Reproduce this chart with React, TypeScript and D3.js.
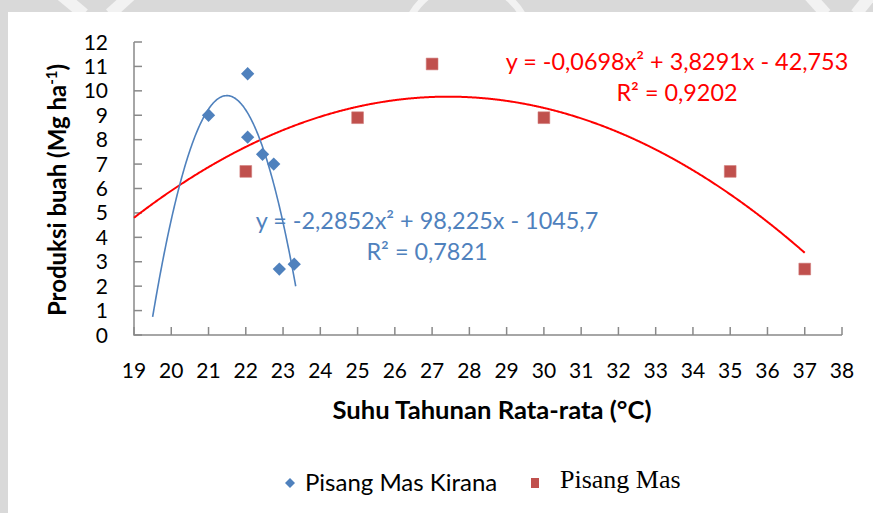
import React from 'react';
import * as d3 from 'd3';

// Pisang Mas Kirana (blue diamonds)
const kiranaTemp = [21, 22.05, 22.05, 22.45, 22.75, 22.9, 23.3];
const kiranaYield = [9.0, 10.7, 8.1, 7.4, 7.0, 2.7, 2.9];
// Pisang Mas (red squares)
const masTemp = [22, 25, 27, 30, 35, 37];
const masYield = [6.7, 8.9, 11.1, 8.9, 6.7, 2.7];

// polynomial trendlines as printed on the chart: a x^2 + b x + c
const kiranaFit = [-2.2852, 98.225, -1045.7];
const kiranaFitRange = [19.5, 23.34];
const masFit = [-0.0698, 3.8291, -42.753];
const masFitRange = [19, 37];

const xTickLabels = [19, 20, 21, 22, 23, 24, 25, 26, 27, 28, 29, 30, 31, 32, 33, 34, 35, 36, 37, 38];
const yTickLabels = [0, 1, 2, 3, 4, 5, 6, 7, 8, 9, 10, 11, 12];

const W = 873;
const H = 513;
const margin = { top: 42, right: 31, bottom: 178, left: 134 };

const BLUE = '#4F81BD';
const RED_MARK = '#C0504D';
const RED = '#FF0000';
const AXIS = '#898989';
const FONT = 'Lato, "Open Sans", sans-serif';

const App = () => {
  const x = d3.scaleLinear().domain([19, 38]).range([margin.left, W - margin.right]);
  const y = d3.scaleLinear().domain([0, 12]).range([H - margin.bottom, margin.top]);

  const line = d3.line<number[]>().x(d => x(d[0])).y(d => y(d[1]));
  const fitPoints = (coef: number[], range: number[]) =>
    d3.range(range[0], range[1] + 0.001, 0.02).map(t => [t, coef[0] * t * t + coef[1] * t + coef[2]]);

  const diamond = d3.symbol().type(d3.symbolSquare).size(88)();
  const square = d3.symbol().type(d3.symbolSquare).size(138)();
  const y0 = y(0);

  return (
    <svg width={W} height={H} style={{ position: 'absolute', left: 0, top: 0 }} fontFamily={FONT}>
      {/* page background and faint watermark */}
      <rect x={0} y={0} width={W} height={H} fill="#d9d9d9" />
      <g stroke="#f2f2f2" fill="none" strokeWidth={12}>
        <path d="M60,-6 L84,14" />
        <path d="M132,-6 L110,14" />
        <path d="M412,14 A64,64 0 0 1 522,14" strokeWidth={7} />
        <path d="M808,-6 L826,14" />
        <path d="M872,-6 L856,14" />
      </g>
      <rect x={8} y={12} width={W - 8} height={H - 12} fill="#ffffff" />

      {/* axes */}
      <g stroke={AXIS} strokeWidth={1.5} fill="none">
        <path d={`M${x(19)},${y(12)}V${y0}H${x(38)}`} />
        {yTickLabels.map(v => (
          <line key={'yt' + v} x1={x(19)} x2={x(19) + 8} y1={y(v)} y2={y(v)} />
        ))}
        {xTickLabels.map(v => (
          <line key={'xt' + v} x1={x(v)} x2={x(v)} y1={y0} y2={y0 - 8} />
        ))}
      </g>

      <g fontSize={21} fill="#000">
        {yTickLabels.map(v => (
          <text key={'yl' + v} x={108} y={y(v)} dy="0.36em" textAnchor="end">{v}</text>
        ))}
        {xTickLabels.map(v => (
          <text key={'xl' + v} x={x(v)} y={378} textAnchor="middle">{v}</text>
        ))}
      </g>

      {/* axis titles */}
      <text x={492} y={419} textAnchor="middle" fontWeight="bold" fontSize={24} textLength={319} lengthAdjust="spacingAndGlyphs">
        Suhu Tahunan Rata-rata (°C)
      </text>
      <text transform={`translate(66,190) rotate(-90)`} textAnchor="middle" fontWeight="bold" fontSize={24}>
        Produksi buah (Mg ha<tspan dy={-9} fontSize={15}>-1</tspan><tspan dy={9}>)</tspan>
      </text>

      {/* trendlines */}
      <path d={line(fitPoints(masFit, masFitRange)) || ''} fill="none" stroke={RED} strokeWidth={2} />
      <path d={line(fitPoints(kiranaFit, kiranaFitRange)) || ''} fill="none" stroke={BLUE} strokeWidth={1.6} />

      {/* points */}
      {masTemp.map((t, i) => (
        <path key={'m' + i} d={square || ''} transform={`translate(${x(t)},${y(masYield[i])})`} fill={RED_MARK} stroke="#d07a78" strokeWidth={0.6} />
      ))}
      {kiranaTemp.map((t, i) => (
        <path key={'k' + i} d={diamond || ''} transform={`translate(${x(t)},${y(kiranaYield[i])}) rotate(45)`} fill={BLUE} />
      ))}

      {/* equations */}
      <g fontSize={23.4} textAnchor="middle">
        <text x={677} y={70} fill={RED}>y = -0,0698x² + 3,8291x - 42,753</text>
        <text x={677} y={101} fill={RED}>R² = 0,9202</text>
        <text x={427} y={229} fill={BLUE}>y = -2,2852x² + 98,225x - 1045,7</text>
        <text x={427} y={260} fill={BLUE}>R² = 0,7821</text>
      </g>

      {/* legend */}
      <path d={d3.symbol().type(d3.symbolSquare).size(50)() || ''} transform="translate(290,483) rotate(45)" fill={BLUE} />
      <text x={305} y={491} fontSize={24}>Pisang Mas Kirana</text>
      <rect x={531} y={478} width={8} height={10} fill={RED_MARK} />
      <text x={560} y={488} fontSize={26} fontFamily='"Liberation Serif", "Times New Roman", serif'>Pisang Mas</text>
    </svg>
  );
};

export default App;
